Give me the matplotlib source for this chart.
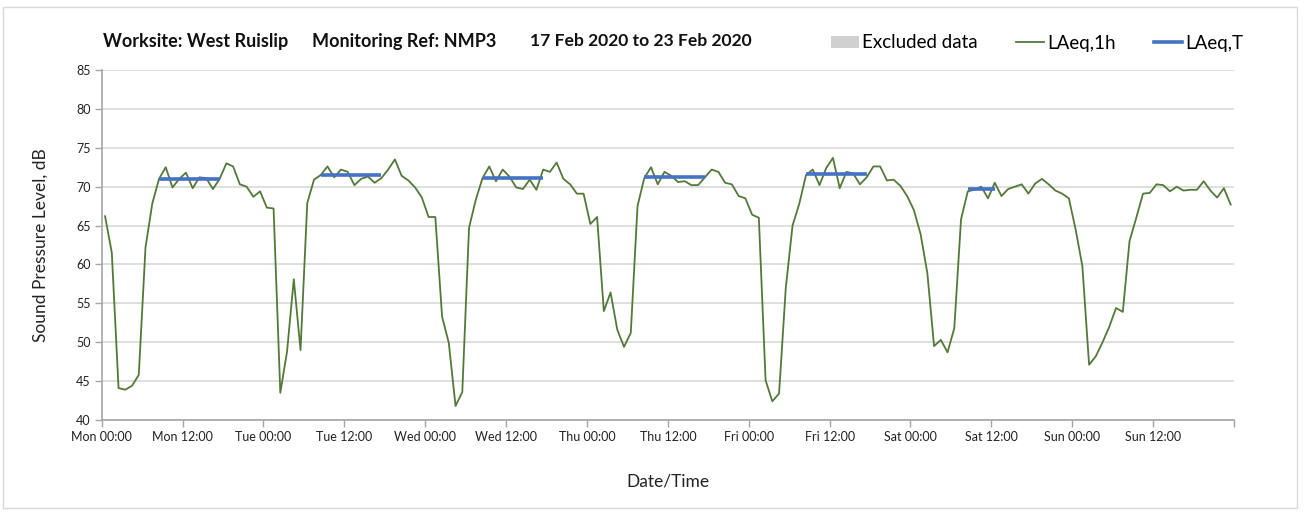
import matplotlib.pyplot as plt
import numpy as np
from matplotlib.lines import Line2D
from matplotlib.patches import Patch, Rectangle

plt.rcParams['font.family'] = ['Lato', 'DejaVu Sans']

DAYS = ["Mon", "Tue", "Wed", "Thu", "Fri", "Sat", "Sun"]

# hourly LAeq,1h per day, 00:00 .. 23:00
MON = [66.2, 61.5, 44.1, 43.9, 44.4, 45.8, 62.2, 67.8, 71.0, 72.5, 69.9, 71.0,
       71.8, 69.8, 71.2, 71.1, 69.7, 71.0, 73.0, 72.6, 70.3, 70.0, 68.7, 69.4]
TUE = [67.3, 67.2, 43.5, 48.8, 58.1, 49.0, 67.9, 70.9, 71.5, 72.6, 71.2, 72.2,
       71.9, 70.2, 71.0, 71.3, 70.5, 71.1, 72.2, 73.5, 71.4, 70.8, 69.9, 68.6]
WED = [66.1, 66.1, 53.3, 49.9, 41.8, 43.6, 64.7, 68.3, 71.1, 72.6, 70.7, 72.2,
       71.3, 69.9, 69.7, 70.9, 69.6, 72.2, 71.9, 73.1, 71.0, 70.3, 69.1, 69.1]
THU = [65.2, 66.1, 54.0, 56.4, 51.6, 49.4, 51.2, 67.5, 71.1, 72.5, 70.3, 71.9,
       71.4, 70.6, 70.7, 70.2, 70.2, 71.2, 72.2, 71.9, 70.5, 70.3, 68.8, 68.5]
FRI = [66.4, 66.0, 45.1, 42.4, 43.4, 57.0, 65.0, 67.8, 71.5, 72.2, 70.2, 72.4,
       73.7, 69.8, 71.9, 71.7, 70.3, 71.2, 72.6, 72.6, 70.8, 70.9, 70.1, 68.8]
SAT = [67.0, 63.9, 58.9, 49.5, 50.3, 48.7, 51.8, 65.8, 69.4, 69.6, 70.0, 68.5,
       70.5, 68.8, 69.7, 70.0, 70.3, 69.1, 70.4, 71.0, 70.3, 69.5, 69.1, 68.5]
SUN = [64.5, 59.8, 47.1, 48.2, 50.0, 52.0, 54.4, 53.9, 63.0, 66.0, 69.1, 69.2,
       70.3, 70.2, 69.4, 70.0, 69.5, 69.6, 69.6, 70.7, 69.5, 68.6, 69.8, 67.7]

# LAeq,T over the working period (Mon..Sat)
LAEQ_T = [71.0, 71.5, 71.1, 71.2, 71.6, 69.7]
PERIOD_START = [8, 8, 8, 8, 8, 8]
PERIOD_END = [18, 18, 18, 18, 18, 13]

GREEN = "#52793a"
BLUE = "#4472c4"
GRID = "#d9d9d9"

W, H = 1315, 515
fig = plt.figure(figsize=(W / 100, H / 100), dpi=100)
ax = fig.add_axes([101.7 / W, 1 - 420 / H, (1234 - 101.7) / W, 350 / H])

hourly = np.concatenate([MON, TUE, WED, THU, FRI, SAT, SUN])
hours = np.arange(len(hourly)) + 0.5
ax.plot(hours, hourly, color=GREEN, lw=1.3, zorder=3)

for d, level in enumerate(LAEQ_T):
    x0 = d * 24 + PERIOD_START[d] + 0.5
    x1 = d * 24 + PERIOD_END[d] - 0.5
    ax.plot([x0, x1], [level, level], color=BLUE, lw=2.6, zorder=4,
            solid_capstyle="butt")

ax.set_xlim(0, 168)
ax.set_ylim(40, 85)
ax.set_yticks(np.arange(40, 86, 5))
ticks = np.arange(0, 169, 12)
labels = [f"{DAYS[t // 24]} {t % 24:02d}:00" if t < 168 else "" for t in ticks]
ax.set_xticks(ticks)
ax.set_xticklabels(labels)
ax.set_xticks(np.arange(24, 169, 24), minor=True)
ax.tick_params(axis="both", which="major", labelsize=9, color="#a6a6a6",
               length=5, width=1, labelcolor="#222222", pad=3)
ax.tick_params(axis="x", which="minor", length=0)

ax.grid(axis="y", which="major", color=GRID, lw=1.2)
ax.grid(axis="x", which="minor", color=GRID, lw=1.2)
ax.set_axisbelow(True)
for side in ("top", "right"):
    ax.spines[side].set_visible(False)
for side in ("left", "bottom"):
    ax.spines[side].set_color("#a6a6a6")
    ax.spines[side].set_linewidth(1.2)

ax.set_ylabel("Sound Pressure Level, dB", fontsize=12.5, color="#222222", labelpad=20)
ax.set_xlabel("Date/Time", fontsize=12.5, color="#222222", labelpad=22)

title_kw = dict(fontweight="bold", color="#111111", va="center")
fig.text(103 / W, 1 - 41 / H, "Worksite: West Ruislip", fontsize=13, **title_kw)
fig.text(312 / W, 1 - 41 / H, "Monitoring Ref: NMP3", fontsize=13, **title_kw)
fig.text(530 / W, 1 - 41 / H, "17 Feb 2020 to 23 Feb 2020", fontsize=12.6, **title_kw)

handles = [
    Patch(facecolor="#d0d0d0", edgecolor="none"),
    Line2D([], [], color=GREEN, lw=1.3),
    Line2D([], [], color=BLUE, lw=2.6),
]
fig.legend(handles, ["Excluded data", "LAeq,1h", "LAeq,T"], ncol=3,
           loc="center left", bbox_to_anchor=(823 / W, 1 - 43 / H),
           frameon=False, fontsize=13.5, handlelength=1.5, handleheight=0.55,
           handletextpad=0.2, columnspacing=2.0, borderaxespad=0)

fig.patches.append(Rectangle((3 / W, 7 / H), 1294 / W, 501 / H,
                             transform=fig.transFigure, fill=False,
                             edgecolor=GRID, lw=1))

fig.savefig("out.png", dpi=100, facecolor="white")
